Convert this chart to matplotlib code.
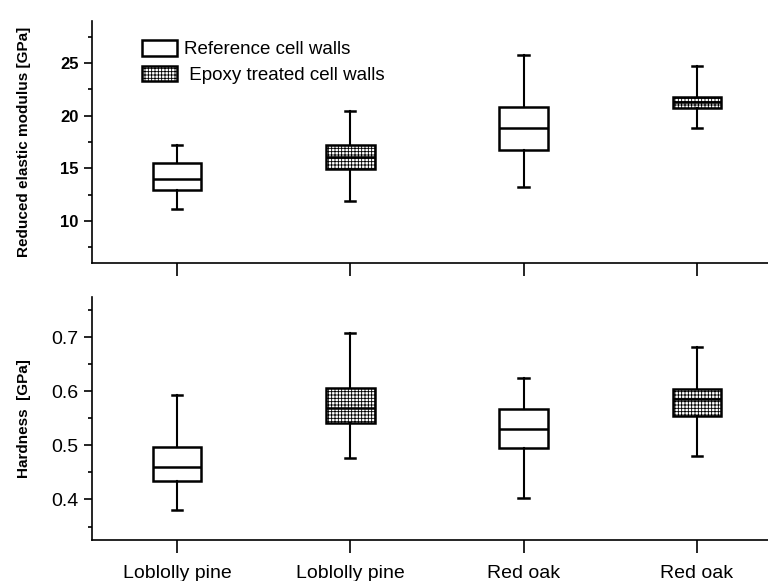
import numpy as np
import matplotlib.pyplot as plt
from matplotlib.patches import Patch
from matplotlib.ticker import MultipleLocator

plt.rcParams['hatch.linewidth'] = 0.6
plt.rcParams['font.family'] = ['Liberation Sans', 'DejaVu Sans']

# species labels and treatment per box
categories = ['Loblolly pine', 'Loblolly pine', 'Red oak', 'Red oak']
treated = [False, True, False, True]

# reduced elastic modulus [GPa]
mod_whislo = [11.1, 11.9, 13.2, 18.8]
mod_q1 = [12.9, 14.9, 16.7, 20.7]
mod_med = [14.0, 16.1, 18.8, 21.3]
mod_q3 = [15.5, 17.25, 20.8, 21.8]
mod_whishi = [17.2, 20.4, 25.8, 24.7]

# hardness [GPa]
hard_whislo = [0.381, 0.477, 0.403, 0.481]
hard_q1 = [0.434, 0.542, 0.496, 0.554]
hard_med = [0.461, 0.569, 0.531, 0.586]
hard_q3 = [0.497, 0.606, 0.568, 0.604]
hard_whishi = [0.594, 0.709, 0.625, 0.683]

legend_labels = ['Reference cell walls', ' Epoxy treated cell walls']

fig = plt.figure(figsize=(7.68, 5.81), dpi=100)
W, H = 768, 581
ax1 = fig.add_axes([92 / W, 1 - 263 / H, 676 / W, 242 / H])
ax2 = fig.add_axes([92 / W, 1 - 540 / H, 676 / W, 243 / H])

pos = np.arange(1, 5)


def draw_boxes(ax, lo, q1, med, q3, hi):
    stats = []
    for i in range(len(lo)):
        stats.append(dict(whislo=lo[i], q1=q1[i], med=med[i], q3=q3[i],
                          whishi=hi[i], fliers=[], label=categories[i]))
    bp = ax.bxp(stats, positions=pos, widths=0.28, patch_artist=True,
                showfliers=False,
                boxprops=dict(linewidth=1.8, edgecolor='black', facecolor='white'),
                medianprops=dict(color='black', linewidth=1.8),
                whiskerprops=dict(color='black', linewidth=1.5),
                capprops=dict(color='black', linewidth=1.8),
                capwidths=0.06)
    for box, t in zip(bp['boxes'], treated):
        if t:
            box.set_hatch('+++++')


def style_axis(ax):
    for s in ['top', 'right']:
        ax.spines[s].set_visible(False)
    for s in ['left', 'bottom']:
        ax.spines[s].set_linewidth(1.2)
    ax.set_xlim(0.51, 4.41)
    ax.tick_params(axis='y', which='major', direction='out', length=6, width=1.2)
    ax.tick_params(axis='y', which='minor', direction='out', length=3, width=1.2)
    ax.tick_params(axis='x', which='major', direction='out', length=9, width=1.2, pad=9)


draw_boxes(ax1, mod_whislo, mod_q1, mod_med, mod_q3, mod_whishi)
style_axis(ax1)
ax1.set_ylim(6, 29)
ax1.set_yticks([10, 15, 20, 25])
ax1.yaxis.set_minor_locator(MultipleLocator(2.5))
ax1.set_xticks(pos)
ax1.set_xticklabels([])
for t in ax1.get_yticklabels():
    t.set_fontweight('bold')
    t.set_fontsize(12)
ax1.set_ylabel('Reduced elastic modulus [GPa]', fontsize=11, fontweight='bold')
ax1.yaxis.set_label_coords(-0.09, 0.5)

handles = [Patch(facecolor='white', edgecolor='black', linewidth=1.8),
           Patch(facecolor='white', edgecolor='black', linewidth=1.8, hatch='+++++')]
ax1.legend(handles, legend_labels, loc='upper left', bbox_to_anchor=(0.055, 0.975),
           frameon=False, handlelength=1.85, handleheight=0.9, handletextpad=0.35,
           labelspacing=0.4, borderaxespad=0.3, prop=dict(size=13.5))

draw_boxes(ax2, hard_whislo, hard_q1, hard_med, hard_q3, hard_whishi)
style_axis(ax2)
ax2.set_ylim(0.325, 0.775)
ax2.set_yticks([0.4, 0.5, 0.6, 0.7])
ax2.yaxis.set_minor_locator(MultipleLocator(0.05))
ax2.set_xticks(pos)
ax2.set_xticklabels(categories, fontsize=14)
for t in ax2.get_yticklabels():
    t.set_fontsize(14)
ax2.set_ylabel('Hardness  [GPa]', fontsize=11, fontweight='bold')
ax2.yaxis.set_label_coords(-0.09, 0.5)

fig.savefig('out.png', dpi=100)
